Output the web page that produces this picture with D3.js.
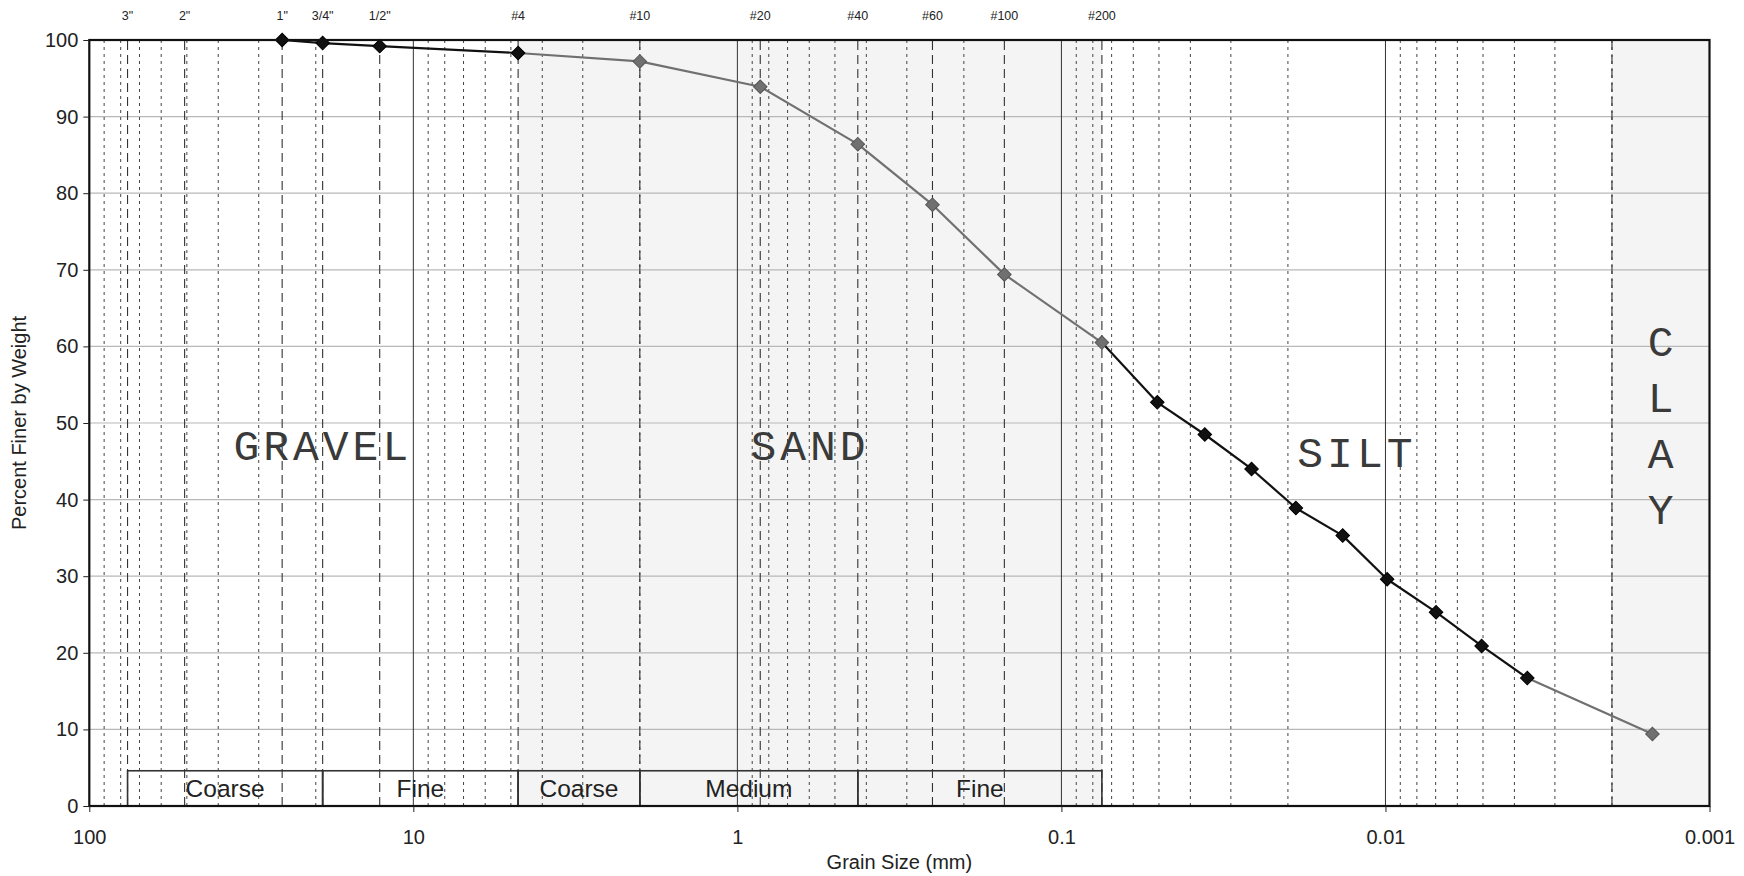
<!DOCTYPE html>
<html>
<head>
<meta charset="utf-8">
<script src="https://cdn.jsdelivr.net/npm/d3@7"></script>
<style>
  body { margin: 0; background: #fff; }
  svg { display: block; }
  text { font-family: Arial, "Liberation Sans", sans-serif; fill: #222; }
</style>
</head>
<body>
<svg id="chart" width="1744" height="876"></svg>
<script>
// ---- Sieve openings (mm) and their labels along the top ----
const sieveLabels = ['3"', '2"', '1"', '3/4"', '1/2"', '#4', '#10', '#20', '#40', '#60', '#100', '#200'];
const sieveSizes  = [76.2, 50.8, 25.4, 19.05, 12.7, 4.75, 2.0, 0.85, 0.425, 0.25, 0.15, 0.075];

// ---- Gradation test results ----
const grainSize    = [25.4, 19.05, 12.7, 4.75, 2.0, 0.85, 0.425, 0.25, 0.15, 0.075,
                      0.0506, 0.0361, 0.0259, 0.0189, 0.01355, 0.00988, 0.00698, 0.00505, 0.00365, 0.0015];
const percentFiner = [100, 99.6, 99.2, 98.3, 97.2, 93.9, 86.4, 78.5, 69.4, 60.5,
                      52.7, 48.5, 44.0, 38.9, 35.3, 29.6, 25.3, 20.9, 16.7, 9.4];
const pointTone    = ['dark', 'dark', 'dark', 'dark', 'light', 'light', 'light', 'light', 'light', 'light',
                      'dark', 'dark', 'dark', 'dark', 'dark', 'dark', 'dark', 'dark', 'dark', 'light'];

// ---- Soil zones (mm) ----
const zoneNames  = ['GRAVEL', 'SAND', 'SILT', 'CLAY'];
const zoneBounds = [[76.2, 4.75], [4.75, 0.075], [0.075, 0.002], [0.002, 0.001]];

// ---- Sub-classes drawn as boxes along the bottom ----
const classNames  = ['Coarse', 'Fine', 'Coarse', 'Medium', 'Fine'];
const classBounds = [[76.2, 19.05], [19.05, 4.75], [4.75, 2.0], [2.0, 0.425], [0.425, 0.075]];

// ---- Axis ticks ----
const xTickValues = [100, 10, 1, 0.1, 0.01, 0.001];
const xTickLabels = ['100', '10', '1', '0.1', '0.01', '0.001'];
const yTickValues = [0, 10, 20, 30, 40, 50, 60, 70, 80, 90, 100];

const svg = d3.select('#chart');
const plotL = 89.3, plotR = 1709.5, plotT = 40, plotB = 806;

const x = d3.scaleLog().domain([100, 0.001]).range([plotL, plotR]);
const y = d3.scaleLinear().domain([0, 100]).range([plotB, plotT]);

// shaded zones: sand and clay
const shade = svg.append('g');
[1, 3].forEach(i => {
  const [a, b] = zoneBounds[i];
  shade.append('rect')
    .attr('x', x(a)).attr('y', y(100))
    .attr('width', x(b) - x(a)).attr('height', y(0) - y(100))
    .attr('fill', '#f4f4f4');
});

// horizontal grid
svg.append('g').selectAll('line').data(yTickValues.filter(v => v > 0 && v < 100)).join('line')
  .attr('x1', plotL).attr('x2', plotR)
  .attr('y1', d => y(d)).attr('y2', d => y(d))
  .attr('stroke', '#b8b8b8').attr('stroke-width', 1.2);

// minor log lines (2..9 in each decade)
const minors = [];
for (let k = 1; k >= -3; k--) {
  for (let m = 2; m <= 9; m++) minors.push(m * Math.pow(10, k));
}
svg.append('g').selectAll('line').data(minors).join('line')
  .attr('x1', d => x(d)).attr('x2', d => x(d))
  .attr('y1', y(0)).attr('y2', y(100))
  .attr('stroke', '#444').attr('stroke-width', 1)
  .attr('stroke-dasharray', '3,4');

// decade lines
svg.append('g').selectAll('line').data(xTickValues.slice(1, -1)).join('line')
  .attr('x1', d => x(d)).attr('x2', d => x(d))
  .attr('y1', y(0)).attr('y2', y(100))
  .attr('stroke', '#333').attr('stroke-width', 1);

// sieve lines and silt/clay boundary
svg.append('g').selectAll('line').data(sieveSizes.concat([zoneBounds[3][0]])).join('line')
  .attr('x1', d => x(d)).attr('x2', d => x(d))
  .attr('y1', y(0)).attr('y2', y(100))
  .attr('stroke', '#333').attr('stroke-width', 1.1)
  .attr('stroke-dasharray', '9,5');

// zone labels
const zoneFont = '"Liberation Mono", "Courier New", monospace';
const zoneG = svg.append('g');
zoneNames.slice(0, 3).forEach((name, i) => {
  const [a, b] = zoneBounds[i];
  zoneG.append('text')
    .attr('x', x(Math.sqrt(a * b)))
    .attr('y', y(i === 2 ? 44.2 : 45.2))
    .attr('text-anchor', 'middle')
    .style('font-family', zoneFont)
    .style('font-size', '43px')
    .style('letter-spacing', '4px')
    .style('fill', '#3a3a3a')
    .text(name);
});
{
  const [a, b] = zoneBounds[3];
  const cx = x(Math.sqrt(a * b));
  zoneG.selectAll('text.clay').data(zoneNames[3].split('')).join('text')
    .attr('class', 'clay')
    .attr('x', cx)
    .attr('y', (d, i) => y(58.7) + i * 56)
    .attr('text-anchor', 'middle')
    .style('font-family', zoneFont)
    .style('font-size', '43px')
    .style('fill', '#3a3a3a')
    .text(d => d);
}

// sub-class boxes
const boxTop = 4.6;
const boxes = svg.append('g');
classNames.forEach((name, i) => {
  const [a, b] = classBounds[i];
  boxes.append('rect')
    .attr('x', x(a)).attr('y', y(boxTop))
    .attr('width', x(b) - x(a)).attr('height', y(0) - y(boxTop))
    .attr('fill', 'none').attr('stroke', '#333').attr('stroke-width', 1.6);
  boxes.append('text')
    .attr('x', x(Math.sqrt(a * b))).attr('y', y(boxTop / 2))
    .attr('dy', '0.36em')
    .attr('text-anchor', 'middle')
    .style('font-size', '24.5px')
    .text(name);
});

// gradation curve: each segment takes the tone of the point it reaches
const pts = grainSize.map((g, i) => ({ g, p: percentFiner[i], tone: pointTone[i] }));
const toneColor = { dark: '#111', light: '#707070' };
svg.append('g').selectAll('line').data(pts.slice(1)).join('line')
  .attr('x1', (d, i) => x(pts[i].g)).attr('y1', (d, i) => y(pts[i].p))
  .attr('x2', d => x(d.g)).attr('y2', d => y(d.p))
  .attr('stroke', d => toneColor[d.tone]).attr('stroke-width', 2.2);

const diamond = d3.symbol().type(d3.symbolSquare).size(92);
svg.append('g').selectAll('path').data(pts).join('path')
  .attr('d', diamond)
  .attr('transform', d => `translate(${x(d.g)},${y(d.p)}) rotate(45)`)
  .attr('fill', d => toneColor[d.tone])
  .attr('stroke', d => d.tone === 'dark' ? '#000' : '#555')
  .attr('stroke-width', 1);

// plot frame
svg.append('rect')
  .attr('x', plotL).attr('y', plotT)
  .attr('width', plotR - plotL).attr('height', plotB - plotT)
  .attr('fill', 'none').attr('stroke', '#111').attr('stroke-width', 2.2);

// axes
const xAxis = svg.append('g')
  .attr('transform', `translate(0,${plotB})`)
  .call(d3.axisBottom(x).tickValues(xTickValues)
    .tickFormat((d, i) => xTickLabels[i]).tickSize(6).tickPadding(18));
xAxis.select('.domain').remove();
xAxis.selectAll('line').attr('stroke', '#222');
xAxis.selectAll('text').style('font-size', '20px').style('font-family', 'Arial, "Liberation Sans", sans-serif').attr('fill', '#222');

const yAxis = svg.append('g')
  .attr('transform', `translate(${plotL},0)`)
  .call(d3.axisLeft(y).tickValues(yTickValues).tickSize(6).tickPadding(5));
yAxis.select('.domain').remove();
yAxis.selectAll('line').attr('stroke', '#222');
yAxis.selectAll('text').style('font-size', '20px').style('font-family', 'Arial, "Liberation Sans", sans-serif').attr('fill', '#222');

// sieve labels along the top
svg.append('g').selectAll('text').data(sieveSizes).join('text')
  .attr('x', d => x(d)).attr('y', 20)
  .attr('text-anchor', 'middle')
  .style('font-size', '12.5px')
  .text((d, i) => sieveLabels[i]);

// axis titles
svg.append('text')
  .attr('x', (plotL + plotR) / 2).attr('y', 869)
  .attr('text-anchor', 'middle')
  .style('font-size', '20px')
  .text('Grain Size (mm)');

svg.append('text')
  .attr('transform', `translate(26,${(plotT + plotB) / 2}) rotate(-90)`)
  .attr('text-anchor', 'middle')
  .style('font-size', '20px')
  .text('Percent Finer by Weight');
</script>
</body>
</html>
